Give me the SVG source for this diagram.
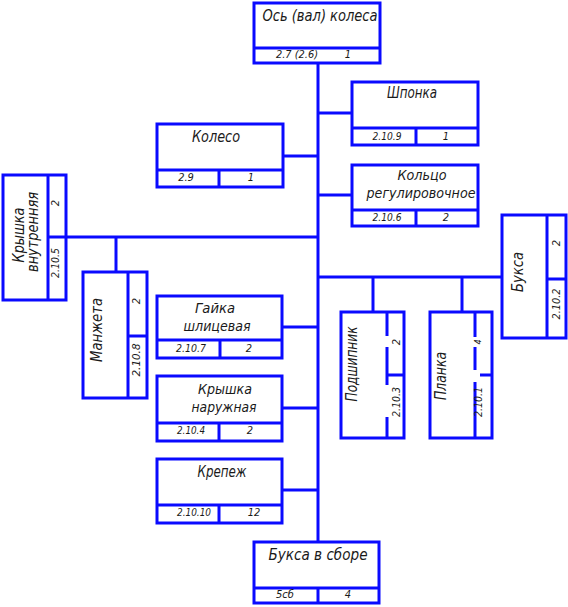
<svg xmlns="http://www.w3.org/2000/svg" width="568" height="607" viewBox="0 0 568 607">
<style>
.b{fill:none;stroke:#0a0aff;stroke-width:3}
.l{stroke:#0a0aff;stroke-width:3;fill:none}
.t{font-family:"DejaVu Sans Condensed","DejaVu Sans",sans-serif;font-style:italic;font-size:16px;fill:#1a1a1a;text-anchor:middle}
.t2{font-size:14px}
.n{font-family:"DejaVu Sans Condensed","DejaVu Sans",sans-serif;font-style:italic;font-size:11px;fill:#1a1a1a;text-anchor:middle}
</style>
<rect x="0" y="0" width="568" height="607" fill="#fff"/>
<g id="connectors" class="l">
<path d="M318 63V542"/>
<path d="M318 113H352"/>
<path d="M283 156H318"/>
<path d="M318 195H352"/>
<path d="M66 237H318"/>
<path d="M116 237V272"/>
<path d="M318 277H502"/>
<path d="M373 277V312"/>
<path d="M462 277V312"/>
<path d="M282 327H318"/>
<path d="M282 408H318"/>
<path d="M282 490H318"/>
</g>
<g id="os">
<rect class="b" x="254" y="3" width="126" height="60"/>
<path class="l" d="M254 48H380"/>
<text class="t" x="320" y="21" textLength="115" lengthAdjust="spacingAndGlyphs">Ось (вал) колеса</text>
<text class="n" x="297" y="58" textLength="42" lengthAdjust="spacingAndGlyphs">2.7 (2.6)</text>
<text class="n" x="348" y="58">1</text>
</g>
<g id="shponka">
<rect class="b" x="352" y="82" width="126" height="63"/>
<path class="l" d="M352 128H478M416 128V145"/>
<text class="t" x="412" y="98" textLength="50" lengthAdjust="spacingAndGlyphs">Шпонка</text>
<text class="n" x="387" y="140" textLength="29" lengthAdjust="spacingAndGlyphs">2.10.9</text>
<text class="n" x="446" y="140">1</text>
</g>
<g id="koleso">
<rect class="b" x="157" y="124" width="126" height="63"/>
<path class="l" d="M157 170H283M219 170V187"/>
<text class="t" x="216" y="142" textLength="48" lengthAdjust="spacingAndGlyphs">Колесо</text>
<text class="n" x="186" y="181">2.9</text>
<text class="n" x="251" y="181">1</text>
</g>
<g id="kolco">
<rect class="b" x="352" y="165" width="126" height="61"/>
<path class="l" d="M352 210H478M416 210V226"/>
<text class="t t2" x="422" y="180" textLength="49" lengthAdjust="spacingAndGlyphs">Кольцо</text>
<text class="t t2" x="421" y="198" textLength="109" lengthAdjust="spacingAndGlyphs">регулировочное</text>
<text class="n" x="387" y="221" textLength="29" lengthAdjust="spacingAndGlyphs">2.10.6</text>
<text class="n" x="446" y="221">2</text>
</g>
<g id="kryshka-vnutr">
<rect class="b" x="3" y="175" width="63" height="125"/>
<path class="l" d="M48 175V300M48 237H66"/>
<text class="t" transform="translate(24,235) rotate(-90)" textLength="55" lengthAdjust="spacingAndGlyphs">Крышка</text>
<text class="t" transform="translate(38,232) rotate(-90)" textLength="80" lengthAdjust="spacingAndGlyphs">внутренняя</text>
<text class="n" transform="translate(59,203) rotate(-90)">2</text>
<text class="n" transform="translate(59,263) rotate(-90)" textLength="30" lengthAdjust="spacingAndGlyphs">2.10.5</text>
</g>
<g id="buksa">
<rect class="b" x="502" y="215" width="64" height="123"/>
<path class="l" d="M547 215V338M547 279H566"/>
<text class="t" transform="translate(523,272) rotate(-90)" textLength="40" lengthAdjust="spacingAndGlyphs">Букса</text>
<text class="n" transform="translate(560,243) rotate(-90)">2</text>
<text class="n" transform="translate(560,304) rotate(-90)" textLength="31" lengthAdjust="spacingAndGlyphs">2.10.2</text>
</g>
<g id="manzheta">
<rect class="b" x="83" y="272" width="64" height="126"/>
<path class="l" d="M128 272V398M128 336H147"/>
<text class="t" transform="translate(102,330) rotate(-90)" textLength="64" lengthAdjust="spacingAndGlyphs">Манжета</text>
<text class="n" transform="translate(140,301) rotate(-90)">2</text>
<text class="n" transform="translate(140,360) rotate(-90)" textLength="33" lengthAdjust="spacingAndGlyphs">2.10.8</text>
</g>
<g id="gaika">
<rect class="b" x="157" y="296" width="125" height="62"/>
<path class="l" d="M157 340H282M220 340V358"/>
<text class="t t2" x="215" y="313" textLength="40" lengthAdjust="spacingAndGlyphs">Гайка</text>
<text class="t t2" x="217" y="331" textLength="67" lengthAdjust="spacingAndGlyphs">шлицевая</text>
<text class="n" x="191" y="352" textLength="30" lengthAdjust="spacingAndGlyphs">2.10.7</text>
<text class="n" x="249" y="352">2</text>
</g>
<g id="podshipnik">
<rect class="b" x="341" y="312" width="63" height="126"/>
<path class="l" d="M387 312V336M387 347V385M387 417V438M387 375H404"/>
<text class="t" transform="translate(357,364) rotate(-90)" textLength="75" lengthAdjust="spacingAndGlyphs">Подшипник</text>
<text class="n" transform="translate(400,342) rotate(-90)">2</text>
<text class="n" transform="translate(400,402) rotate(-90)" textLength="30" lengthAdjust="spacingAndGlyphs">2.10.3</text>
</g>
<g id="planka">
<rect class="b" x="430" y="312" width="62" height="126"/>
<path class="l" d="M475 312V337M475 347V370M475 382V438M480 375H492"/>
<text class="t" transform="translate(446,376) rotate(-90)" textLength="48" lengthAdjust="spacingAndGlyphs">Планка</text>
<text class="n" transform="translate(481,342) rotate(-90)" style="font-size:9px">4</text>
<text class="n" transform="translate(482,402) rotate(-90)" textLength="30" lengthAdjust="spacingAndGlyphs">2.10.1</text>
</g>
<g id="kryshka-nar">
<rect class="b" x="157" y="376" width="125" height="65"/>
<path class="l" d="M157 423H282M219 423V441"/>
<text class="t t2" x="225" y="394" textLength="54" lengthAdjust="spacingAndGlyphs">Крышка</text>
<text class="t t2" x="224" y="412" textLength="65" lengthAdjust="spacingAndGlyphs">наружная</text>
<text class="n" x="191" y="434" textLength="28" lengthAdjust="spacingAndGlyphs">2.10.4</text>
<text class="n" x="250" y="434">2</text>
</g>
<g id="krepezh">
<rect class="b" x="157" y="459" width="125" height="64"/>
<path class="l" d="M157 505H282M219 505V523"/>
<text class="t" x="222" y="477" textLength="49" lengthAdjust="spacingAndGlyphs">Крепеж</text>
<text class="n" x="194" y="516" textLength="34" lengthAdjust="spacingAndGlyphs">2.10.10</text>
<text class="n" x="254" y="516">12</text>
</g>
<g id="buksa-sbor">
<rect class="b" x="254" y="542" width="125" height="61"/>
<path class="l" d="M254 588H379M318 588V603"/>
<text class="t" x="318" y="560" textLength="99" lengthAdjust="spacingAndGlyphs">Букса в сборе</text>
<text class="n" x="285" y="598">5сб</text>
<text class="n" x="348" y="598">4</text>
</g>
</svg>
